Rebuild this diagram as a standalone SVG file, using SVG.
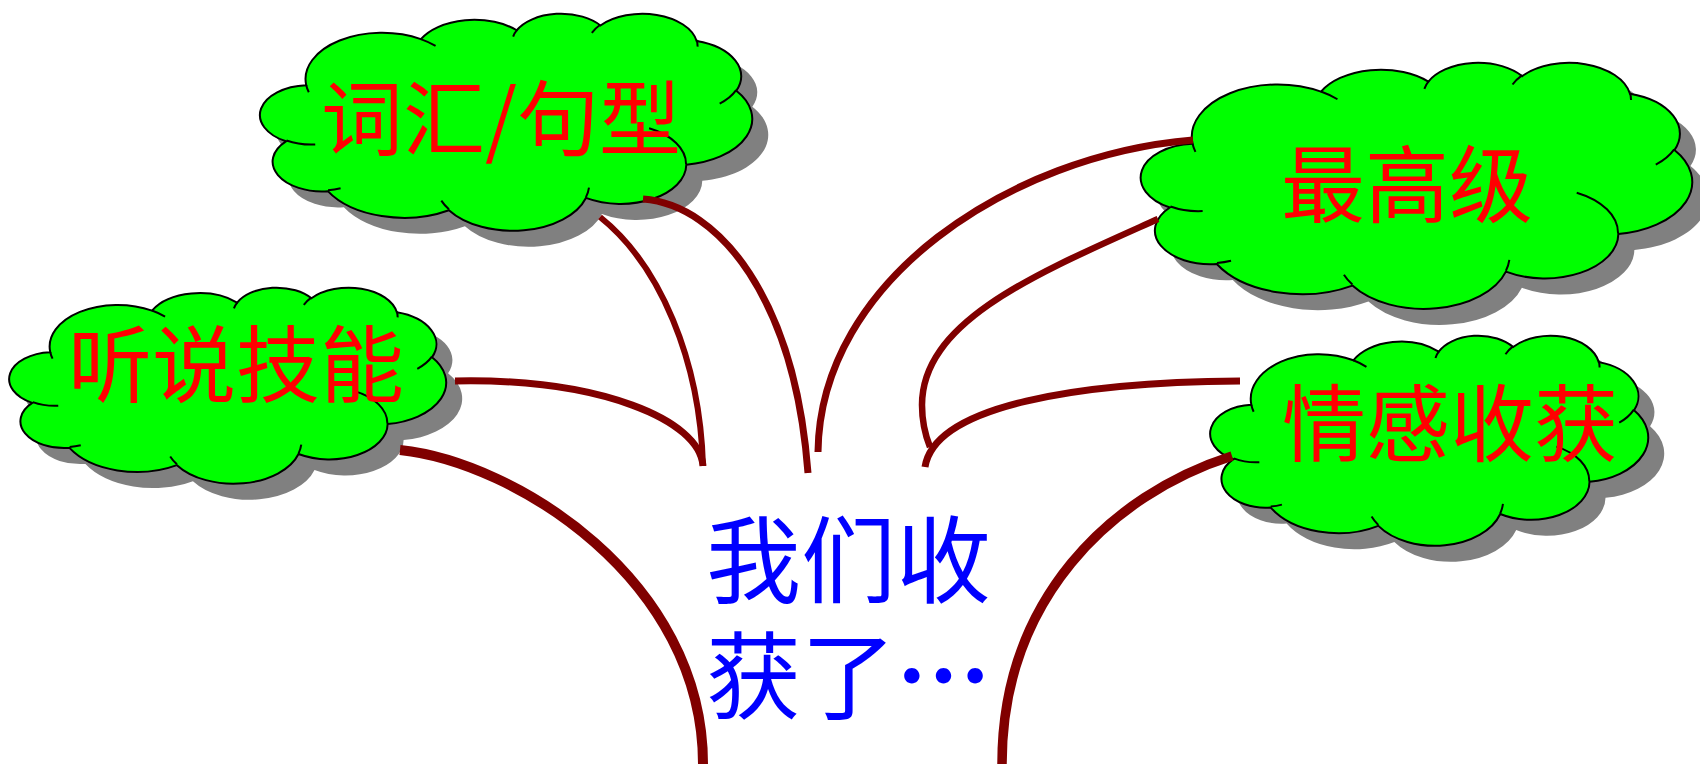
<svg xmlns="http://www.w3.org/2000/svg" xmlns:xlink="http://www.w3.org/1999/xlink" width="1700" height="764" viewBox="0 0 1700 764">
<style>
.shadow{fill:#808080;stroke:none}
.body{fill:#00FF00;stroke:#000000;stroke-width:2}
.detail{fill:none;stroke:#000000;stroke-width:2}
.label{font-family:"Noto Sans CJK SC","Noto Sans",sans-serif;fill:#FF0000;text-anchor:middle}
.center{font-family:"Noto Sans CJK SC","Noto Sans",sans-serif;fill:#0000FF;font-size:95px}
.conn{fill:none;stroke:#800000;stroke-linecap:butt}
</style>
<defs>
<path id="cloud" vector-effect="non-scaling-stroke" d="M3900,14370 A6753,9190 0 0 1 14005,5202 A5333,7267 0 0 1 22457,3434 A4365,5945 0 0 1 29835,2485 A4857,6595 0 0 1 38319,5582 A5333,7273 0 0 1 41819,15465 A6775,9220 0 0 1 37405,30208 A5785,7867 0 0 1 28556,36818 A6752,9215 0 0 1 16480,39267 A7720,10543 0 0 1 5804,35470 A4360,5918 0 0 1 2113,25547 A4345,5945 0 0 1 3900,14370 Z"/>
<path id="cloudDetail" vector-effect="non-scaling-stroke" d="M4693,26177 A4345,5945 0 0 1 2159,25379 M6928,34899 A4360,5918 0 0 1 5820,35281 M16478,39090 A6752,9215 0 0 1 15811,37351 M28827,34751 A6752,9215 0 0 1 28560,36661 M34129,22954 A5785,7867 0 0 1 37381,30073 M41798,15354 A5333,7273 0 0 1 40350,18030 M38324,5426 A4857,6595 0 0 1 38400,6690 M29078,3952 A4857,6595 0 0 1 29821,2339 M22141,4720 A4365,5945 0 0 1 22500,3329 M14000,5192 A6753,9190 0 0 1 15302,6543 M4127,15789 A6753,9190 0 0 1 3900,14370"/>
</defs>

<g id="node-cihui">
<use xlink:href="#cloud" class="shadow" transform="translate(278,29) scale(0.011343,0.005023)"/>
<use xlink:href="#cloud" class="body" transform="translate(262,13) scale(0.011343,0.005023)"/>
<use xlink:href="#cloudDetail" class="detail" transform="translate(262,13) scale(0.011343,0.005023)"/>
<text class="label" x="501" y="149" font-size="82">词汇/句型</text>
</g>

<g id="node-tingshuo">
<use xlink:href="#cloud" class="shadow" transform="translate(27,303) scale(0.010069,0.004537)"/>
<use xlink:href="#cloud" class="body" transform="translate(11,287) scale(0.010069,0.004537)"/>
<use xlink:href="#cloudDetail" class="detail" transform="translate(11,287) scale(0.010069,0.004537)"/>
<text class="label" x="236" y="396" font-size="84">听说技能</text>
</g>

<g id="node-zuigaoji">
<use xlink:href="#cloud" class="shadow" transform="translate(1159,78) scale(0.012708,0.005694)"/>
<use xlink:href="#cloud" class="body" transform="translate(1143,62) scale(0.012708,0.005694)"/>
<use xlink:href="#cloudDetail" class="detail" transform="translate(1143,62) scale(0.012708,0.005694)"/>
<text class="label" x="1407" y="216" font-size="84">最高级</text>
</g>

<g id="node-qinggan">
<use xlink:href="#cloud" class="shadow" transform="translate(1228,351) scale(0.010093,0.004861)"/>
<use xlink:href="#cloud" class="body" transform="translate(1212,335) scale(0.010093,0.004861)"/>
<use xlink:href="#cloudDetail" class="detail" transform="translate(1212,335) scale(0.010093,0.004861)"/>
<text class="label" x="1450" y="455" font-size="84">情感收获</text>
</g>

<g id="connectors">
<path class="conn" stroke-width="7" d="M455,381 C600,378 700,420 703,466"/>
<path class="conn" stroke-width="6" d="M600,217 C660,265 700,360 703,466"/>
<path class="conn" stroke-width="7" d="M643,199 C720,205 795,300 808,473"/>
<path class="conn" stroke-width="7" d="M1193,140 C1010,155 820,280 818,452"/>
<path class="conn" stroke-width="6.5" d="M1158,219 C1040,272 922,320 922,405 C922,425 926,437 930,447"/>
<path class="conn" stroke-width="7" d="M1240,381 C1080,382 935,405 925,467"/>
<path class="conn" stroke-width="10" d="M400,450 C515,462 703,580 703,764"/>
<path class="conn" stroke-width="9.5" d="M1232,456 C1110,495 1002,600 1002,764"/>
</g>

<g id="node-center">
<text class="center"><tspan x="706" y="596">我们收</tspan><tspan x="706" y="712">获了<tspan font-weight="bold">…</tspan></tspan></text>
</g>
</svg>
